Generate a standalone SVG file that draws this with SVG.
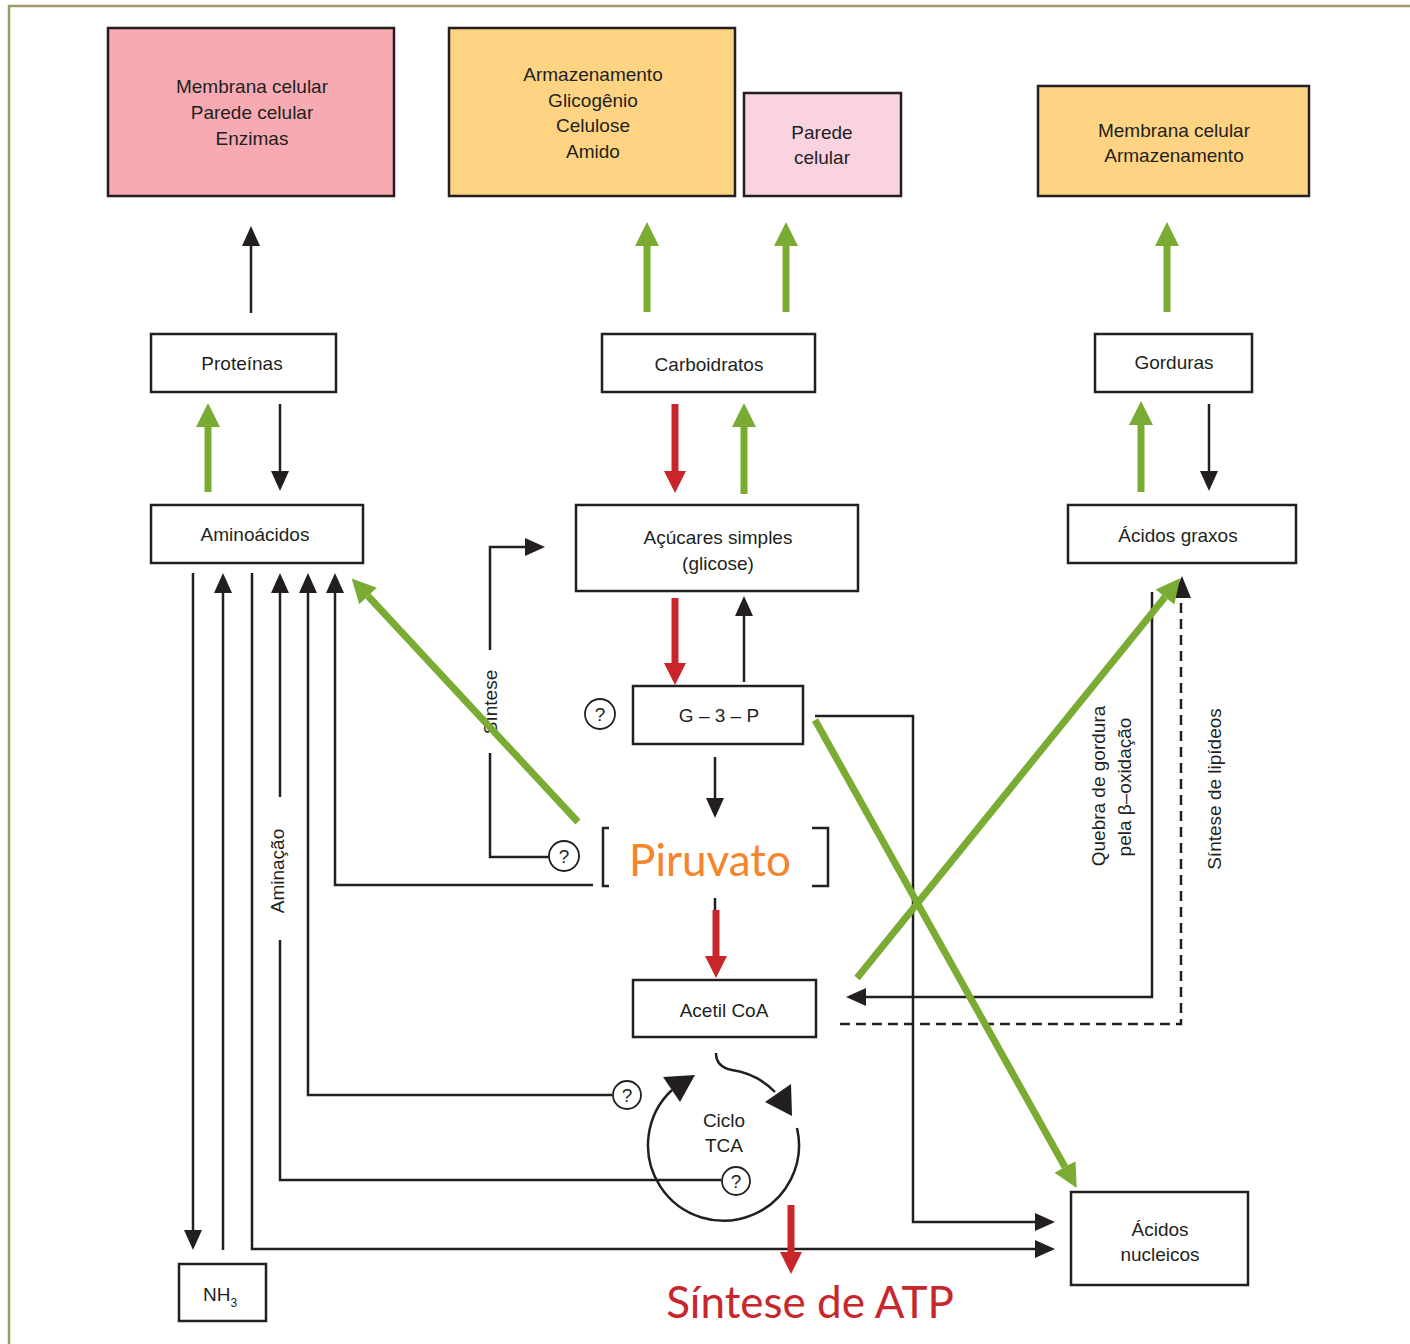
<svg xmlns="http://www.w3.org/2000/svg" width="1410" height="1344" viewBox="0 0 1410 1344">
<defs>
<style>
.bx{stroke:#231f20;stroke-width:2.5;fill:#fff}
.t{font-family:"Liberation Sans",Arial,sans-serif;font-size:19px;fill:#231f20;text-anchor:middle}
.ln{stroke:#231f20;stroke-width:2.5;fill:none}
.dash{stroke:#231f20;stroke-width:2.5;fill:none;stroke-dasharray:10,6}
.gr{stroke:#7aab32;stroke-width:7;fill:none}
.rd{stroke:#c9262c;stroke-width:7;fill:none}
.big{font-family:Lato,"Open Sans",sans-serif;font-size:44px;text-anchor:middle}
</style>
<marker id="ab" markerUnits="userSpaceOnUse" viewBox="0 -12 24 24" markerWidth="24" markerHeight="24" refX="0" refY="0" orient="auto" overflow="visible"><path d="M0,-9 L20,0 L0,9 z" fill="#231f20"/></marker>
<marker id="ag" markerUnits="userSpaceOnUse" viewBox="0 -14 28 28" markerWidth="28" markerHeight="28" refX="0" refY="0" orient="auto" overflow="visible"><path d="M0,-12 L24,0 L0,12 z" fill="#7aab32"/></marker>
<marker id="ar" markerUnits="userSpaceOnUse" viewBox="0 -14 28 28" markerWidth="28" markerHeight="28" refX="0" refY="0" orient="auto" overflow="visible"><path d="M0,-11 L22,0 L0,11 z" fill="#c9262c"/></marker>
</defs>
<rect width="1410" height="1344" fill="#fff"/>
<path d="M9,1344 V6 H1410" stroke="#9e9a68" stroke-width="2.5" fill="none"/>

<g id="box-proteinas-uso">
<rect x="108" y="28" width="286" height="168" fill="#f7aab2" stroke="#231f20" stroke-width="2.5"/>
<text class="t" x="252" y="93">Membrana celular</text>
<text class="t" x="252" y="119">Parede celular</text>
<text class="t" x="252" y="145">Enzimas</text>
</g>
<g id="box-carb-uso">
<rect x="449" y="28" width="286" height="168" fill="#fed382" stroke="#231f20" stroke-width="2.5"/>
<text class="t" x="593" y="81">Armazenamento</text>
<text class="t" x="593" y="107">Glicogênio</text>
<text class="t" x="593" y="132">Celulose</text>
<text class="t" x="593" y="158">Amido</text>
</g>
<g id="box-parede">
<rect x="744" y="93" width="157" height="103" fill="#f9d3e0" stroke="#231f20" stroke-width="2.5"/>
<text class="t" x="822" y="139">Parede</text>
<text class="t" x="822" y="164">celular</text>
</g>
<g id="box-gord-uso">
<rect x="1038" y="86" width="271" height="110" fill="#fed382" stroke="#231f20" stroke-width="2.5"/>
<text class="t" x="1174" y="137">Membrana celular</text>
<text class="t" x="1174" y="162">Armazenamento</text>
</g>
<g id="proteinas">
<rect class="bx" x="151" y="334" width="185" height="58"/>
<text class="t" x="242" y="370">Proteínas</text>
</g>
<g id="carboidratos">
<rect class="bx" x="602" y="334" width="213" height="58"/>
<text class="t" x="709" y="371">Carboidratos</text>
</g>
<g id="gorduras">
<rect class="bx" x="1095" y="334" width="157" height="58"/>
<text class="t" x="1174" y="369">Gorduras</text>
</g>
<g id="aminoacidos">
<rect class="bx" x="151" y="505" width="212" height="58"/>
<text class="t" x="255" y="541">Aminoácidos</text>
</g>
<g id="acucares">
<rect class="bx" x="576" y="505" width="282" height="86"/>
<text class="t" x="718" y="544">Açúcares simples</text>
<text class="t" x="718" y="570">(glicose)</text>
</g>
<g id="acidos-graxos">
<rect class="bx" x="1068" y="505" width="228" height="58"/>
<text class="t" x="1178" y="542">Ácidos graxos</text>
</g>
<g id="g3p">
<rect class="bx" x="633" y="686" width="170" height="58"/>
<text class="t" x="719" y="722">G – 3 – P</text>
</g>
<g id="piruvato">
<path class="ln" d="M609,828 H603 V886 H609 M812,828 H828 V886 H812"/>
<text class="big" x="710" y="876" fill="#f5842a">Piruvato</text>
</g>
<g id="acetil-coa">
<rect class="bx" x="633" y="980" width="183" height="57"/>
<text class="t" x="724" y="1017">Acetil CoA</text>
</g>
<g id="ciclo-tca">
<path class="ln" d="M672,1090 A75.5,75.5 0 1 0 797,1128"/>
<path class="ln" d="M716,1053 Q716,1067 732,1070 A75.5,75.5 0 0 1 775,1092"/>
<polygon points="663,1077 695,1075 680,1102" fill="#231f20"/>
<polygon points="765,1102 791,1084 792,1116" fill="#231f20"/>
<text class="t" x="724" y="1127">Ciclo</text>
<text class="t" x="724" y="1152">TCA</text>
</g>
<g id="acidos-nucleicos">
<rect class="bx" x="1071" y="1192" width="177" height="93"/>
<text class="t" x="1160" y="1236">Ácidos</text>
<text class="t" x="1160" y="1261">nucleicos</text>
</g>
<g id="nh3">
<rect class="bx" x="179" y="1264" width="87" height="57"/>
<text class="t" x="220" y="1301" style="text-anchor:middle">NH<tspan font-size="12" dy="6">3</tspan></text>
</g>
<g id="sintese-atp">
<text class="big" x="810" y="1318" fill="#c9262c">Síntese de ATP</text>
</g>

<g id="connectors">
<path class="ln" d="M251,313 V246" marker-end="url(#ab)"/>
<path class="ln" d="M280,404 V471" marker-end="url(#ab)"/>
<path class="ln" d="M193,573 V1230" marker-end="url(#ab)"/>
<path class="ln" d="M223,1250 V593" marker-end="url(#ab)"/>
<path class="ln" d="M252,573 V1249 H1035" marker-end="url(#ab)"/>
<path class="ln" d="M280,797 V593" marker-end="url(#ab)"/>
<path class="ln" d="M721,1180 H280 V940"/>
<path class="ln" d="M612,1095 H308 V593" marker-end="url(#ab)"/>
<path class="ln" d="M593,885 H335 V593" marker-end="url(#ab)"/>
<path class="ln" d="M549,857 H490 V753"/>
<path class="ln" d="M490,650 V547 H525" marker-end="url(#ab)"/>
<path class="ln" d="M744,682 V616" marker-end="url(#ab)"/>
<path class="ln" d="M715,757 V798" marker-end="url(#ab)"/>
<path class="ln" d="M715,898 V912"/>
<path class="ln" d="M815,716 H913 V1222 H1035" marker-end="url(#ab)"/>
<path class="ln" d="M1152,592 V997 H866" marker-end="url(#ab)"/>
<path class="dash" d="M840,1024 H1181 V598"/>
<path d="M1172,598 L1182,576 L1191,598 z" fill="#231f20"/>
<path class="ln" d="M1209,404 V471" marker-end="url(#ab)"/>

<path class="rd" d="M675,404 V471" marker-end="url(#ar)"/>
<path class="rd" d="M675,598 V663" marker-end="url(#ar)"/>
<path class="rd" d="M716,910 V956" marker-end="url(#ar)"/>
<path class="rd" d="M791,1205 V1252" marker-end="url(#ar)"/>

<path class="gr" d="M208,492 V427" marker-end="url(#ag)"/>
<path class="gr" d="M744,494 V427" marker-end="url(#ag)"/>
<path class="gr" d="M647,312 V246" marker-end="url(#ag)"/>
<path class="gr" d="M786,312 V246" marker-end="url(#ag)"/>
<path class="gr" d="M1167,312 V246" marker-end="url(#ag)"/>
<path class="gr" d="M1141,492 V425" marker-end="url(#ag)"/>
</g>

<g id="labels">
<text class="t" transform="translate(497,702) rotate(-90)">Síntese</text>
<text class="t" transform="translate(284,871) rotate(-90)">Aminação</text>
<text class="t" transform="translate(1105,786) rotate(-90)">Quebra de gordura</text>
<text class="t" transform="translate(1131,787) rotate(-90)">pela β–oxidação</text>
<text class="t" transform="translate(1221,789) rotate(-90)">Síntese de lipídeos</text>
</g>

<g id="question-marks">
<circle cx="600" cy="714" r="15" fill="#fff" stroke="#231f20" stroke-width="1.8"/>
<text class="t" x="600" y="721">?</text>
<circle cx="564" cy="856" r="15" fill="#fff" stroke="#231f20" stroke-width="1.8"/>
<text class="t" x="564" y="863">?</text>
<circle cx="627" cy="1095" r="14" fill="#fff" stroke="#231f20" stroke-width="1.8"/>
<text class="t" x="627" y="1102">?</text>
<circle cx="736" cy="1181" r="14" fill="#fff" stroke="#231f20" stroke-width="1.8"/>
<text class="t" x="736" y="1188">?</text>
</g>

<g id="green-diagonals">
<path class="gr" d="M578,822 L368,596" marker-end="url(#ag)"/>
<path class="gr" d="M857,978 L1165,597" marker-end="url(#ag)"/>
<path class="gr" d="M815,720 L1065,1167" marker-end="url(#ag)"/>
</g>
</svg>
